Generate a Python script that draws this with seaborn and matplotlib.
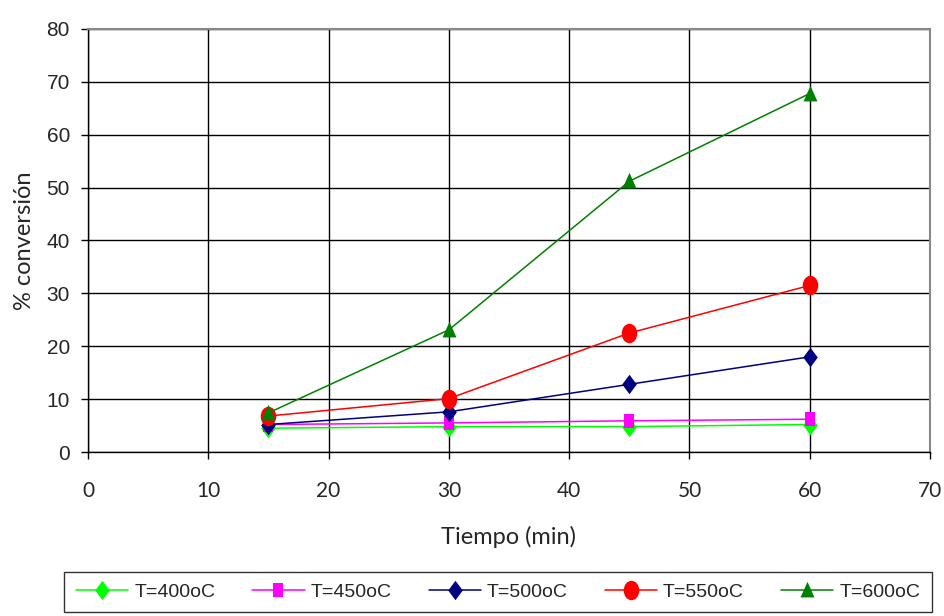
import numpy as np
import pandas as pd
import matplotlib
matplotlib.use("Agg")
import matplotlib.pyplot as plt
from matplotlib.path import Path
from matplotlib.transforms import Affine2D
import seaborn as sns

tiempo = [15, 30, 45, 60]
series = ["T=400oC", "T=450oC", "T=500oC", "T=550oC", "T=600oC"]
v400 = [4.5, 4.8, 4.8, 5.2]
v450 = [5.2, 5.5, 5.9, 6.2]
v500 = [5.2, 7.6, 12.8, 18.0]
v550 = [6.8, 10.1, 22.5, 31.5]
v600 = [7.4, 23.1, 51.2, 67.8]
xticks = [0, 10, 20, 30, 40, 50, 60, 70]
yticks = [0, 10, 20, 30, 40, 50, 60, 70, 80]

colors = ["#00ff00", "#ff00ff", "#000080", "#ff0000", "#008000"]

diamond = Path([(0, 1), (0.75, 0), (0, -1), (-0.75, 0), (0, 1)],
               [Path.MOVETO, Path.LINETO, Path.LINETO, Path.LINETO, Path.CLOSEPOLY])
ellipse = Path.unit_circle().transformed(Affine2D().scale(0.8, 1.0))
square = Path([(-0.6, -0.8), (0.6, -0.8), (0.6, 0.8), (-0.6, 0.8), (-0.6, -0.8)],
              [Path.MOVETO, Path.LINETO, Path.LINETO, Path.LINETO, Path.CLOSEPOLY])
triangle = Path([(0, 1), (0.8, -0.8), (-0.8, -0.8), (0, 1)],
                [Path.MOVETO, Path.LINETO, Path.LINETO, Path.CLOSEPOLY])
markers = [diamond, square, diamond, ellipse, triangle]
msizes = [14, 9.5, 14, 14, 12.5]

rows = []
for name, vals in zip(series, [v400, v450, v500, v550, v600]):
    for t, v in zip(tiempo, vals):
        rows.append({"Tiempo": t, "conv": v, "Serie": name})
df = pd.DataFrame(rows)

sns.set_style("white")
plt.rcParams["font.family"] = ["Liberation Sans", "DejaVu Sans"]

fig = plt.figure(figsize=(9.45, 6.16), dpi=100)
ax = fig.add_axes([88/945, 1-452/616, (930-88)/945, (452-29)/616])

for name, c, m, ms in zip(series, colors, markers, msizes):
    sub = df[df["Serie"] == name]
    sns.lineplot(data=sub, x="Tiempo", y="conv", ax=ax, color=c, marker=m,
                 markersize=ms, markeredgewidth=0, linewidth=1.1, label=name,
                 zorder=3)

ax.set_xlim(0, 70)
ax.set_ylim(0, 80)
ax.set_xticks(xticks)
ax.set_yticks(yticks)
ax.grid(True, color="black", linewidth=1.0)
ax.set_axisbelow(True)
for s in ["top", "right"]:
    ax.spines[s].set_color("#888888")
    ax.spines[s].set_linewidth(1.5)
for s in ["left", "bottom"]:
    ax.spines[s].set_color("black")
    ax.spines[s].set_linewidth(1.0)
ax.tick_params(axis="both", which="both", direction="out", length=5, width=1,
               color="black", bottom=True, left=True)
ax.tick_params(axis="y", labelsize=15, pad=8, labelfontfamily="Liberation Sans")
ax.tick_params(axis="x", labelsize=15, pad=16, labelfontfamily="Lato")

ax.set_xlabel("Tiempo (min)", fontsize=17, family=["Lato", "DejaVu Sans"], labelpad=18)
ax.set_ylabel("% conversión", fontsize=17, family=["Lato", "DejaVu Sans"], labelpad=8)

leg = ax.legend(loc="center", bbox_to_anchor=(498/945, 1 - 592/616), bbox_transform=fig.transFigure,
                ncol=5, frameon=True, fancybox=False, edgecolor="black", fontsize=14,
                handlelength=2.7, columnspacing=1.9, handletextpad=0.3,
                borderpad=0.6)
leg.get_frame().set_linewidth(1.0)

fig.savefig("out.png", dpi=100)
